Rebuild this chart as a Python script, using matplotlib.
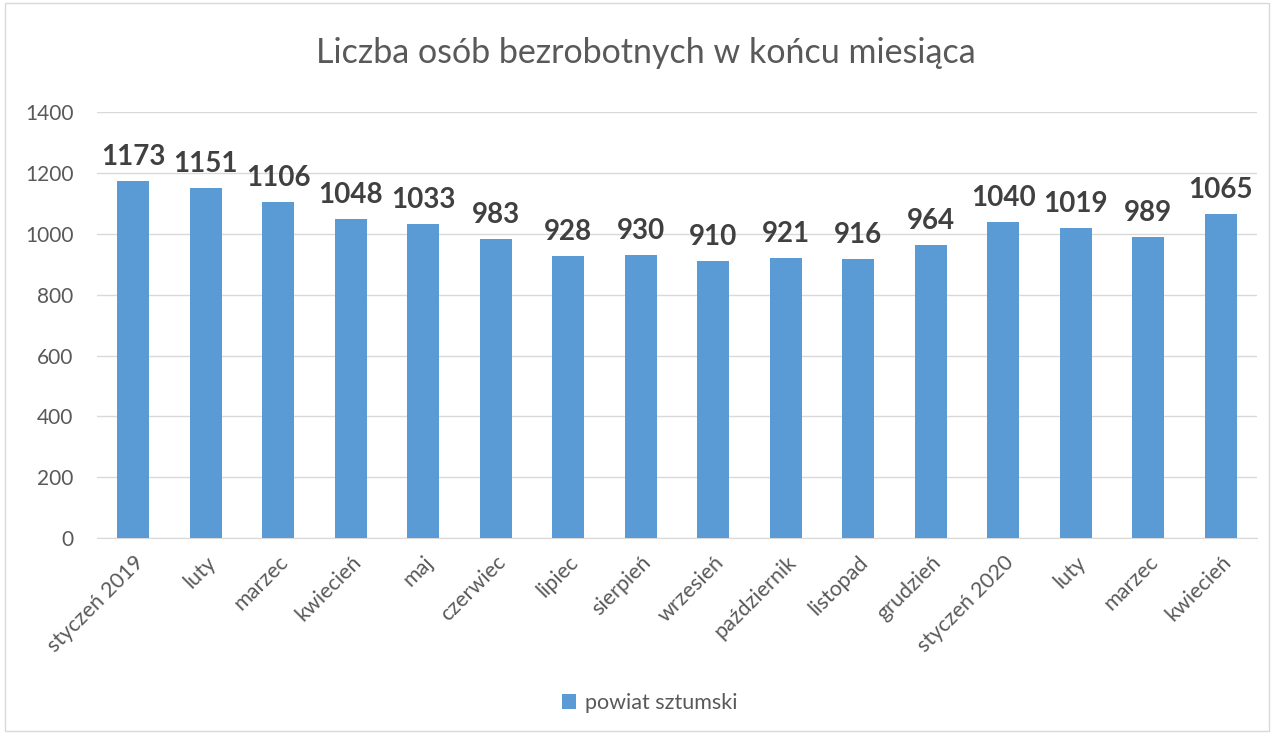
import matplotlib
matplotlib.use("Agg")
import matplotlib.pyplot as plt
from matplotlib.patches import Rectangle

plt.rcParams['font.family'] = ['Lato', 'DejaVu Sans']

categories = ["styczeń 2019", "luty", "marzec", "kwiecień", "maj", "czerwiec", "lipiec",
              "sierpień", "wrzesień", "październik", "listopad", "grudzień", "styczeń 2020",
              "luty", "marzec", "kwiecień"]
values = [1173, 1151, 1106, 1048, 1033, 983, 928, 930, 910, 921, 916, 964, 1040, 1019, 989, 1065]
yticks = [0, 200, 400, 600, 800, 1000, 1200, 1400]
series_name = "powiat sztumski"
title = "Liczba osób bezrobotnych w końcu miesiąca"

bar_color = "#5B9BD5"
text_gray = "#595959"

fig = plt.figure(figsize=(12.74, 7.34), dpi=100)
ax = fig.add_axes([0.0761, 0.267, 0.9106, 0.580])

x = list(range(len(values)))
bars = ax.bar(x, values, width=0.44, color=bar_color, zorder=3, label=series_name)
for xi, v in zip(x, values):
    ax.annotate(str(v), (xi, v), xytext=(0, 8), textcoords="offset points",
                ha="center", va="bottom", fontsize=20, fontweight="bold",
                color="#404040", zorder=4)

ax.set_xlim(-0.5, len(values) - 0.5)
ax.set_ylim(0, 1400)
ax.set_yticks(yticks)
ax.set_yticklabels([str(t) for t in yticks], fontsize=15, color=text_gray)
ax.yaxis.grid(True, color="#D9D9D9", linewidth=1, zorder=0)
ax.set_xticks(x)
ax.set_xticklabels(categories, rotation=45, ha="right", rotation_mode="anchor",
                   fontsize=15.5, color=text_gray)
ax.tick_params(axis="both", length=0)
ax.tick_params(axis="y", pad=17)
ax.tick_params(axis="x", pad=10)
for s in ["top", "right", "left"]:
    ax.spines[s].set_visible(False)
ax.spines["bottom"].set_color("#D9D9D9")

fig.text(0.507, 0.914, title, ha="center", va="baseline", fontsize=24.5, color=text_gray)

leg = fig.legend(handles=[bars], labels=[series_name], loc="center", bbox_to_anchor=(0.51, 0.042),
                 frameon=False, fontsize=15.5, handlelength=0.65, handleheight=0.65, handletextpad=0.4)
for t in leg.get_texts():
    t.set_color(text_gray)

fig.patches.append(Rectangle((0.004, 0.004), 0.992, 0.992, transform=fig.transFigure,
                             fill=False, edgecolor="#D9D9D9", linewidth=1))

fig.savefig("out.png", dpi=100)
